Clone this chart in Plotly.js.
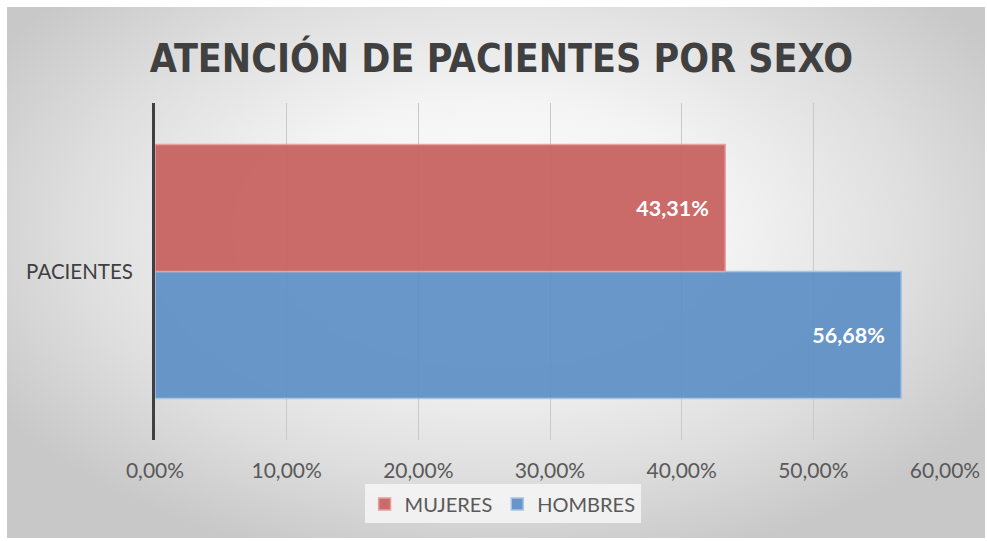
<!DOCTYPE html>
<html>
<head>
<meta charset="utf-8">
<script src="https://cdn.plot.ly/plotly-3.0.1.min.js"></script>
<style>
  html, body { margin: 0; padding: 0; background: #ffffff; width: 987px; height: 541px; overflow: hidden; }
  #bg { position: absolute; left: 7px; top: 7px; width: 978px; height: 531px;
        background: radial-gradient(ellipse 60% 65% at 50% 42%, #ffffff 0%, #f4f4f4 38%, #dedede 72%, #c8c8c8 100%); }
  #chart { position: absolute; left: 0; top: 0; width: 987px; height: 541px; }
</style>
</head>
<body>
<div id="bg"></div>
<div id="chart"></div>
<script>
const categories = ["PACIENTES"];
const seriesNames = ["MUJERES", "HOMBRES"];
const mujeres = [0.4331];
const hombres = [0.5668];
const xTicks = [0, 0.1, 0.2, 0.3, 0.4, 0.5, 0.6];

const common = {
  type: "bar",
  orientation: "h",
  y: categories,
  texttemplate: "%{x:.2%}\u2002\u2009",
  textposition: "inside",
  insidetextanchor: "end",
  textfont: { family: "Lato, 'Open Sans', sans-serif", size: 21.5, color: "#ffffff", weight: "bold" },
  hoverinfo: "skip"
};

const traces = [
  Object.assign({}, common, {
    name: seriesNames[1], x: hombres,
    marker: { color: "rgba(95,143,198,0.93)", line: { color: "#a9c4e4", width: 1.5 } }
  }),
  Object.assign({}, common, {
    name: seriesNames[0], x: mujeres,
    marker: { color: "rgba(199,98,96,0.94)", line: { color: "#e4a3a1", width: 1.5 } }
  })
];

const layout = {
  width: 987, height: 541,
  paper_bgcolor: "rgba(0,0,0,0)",
  plot_bgcolor: "rgba(0,0,0,0)",
  separators: ",.",
  margin: { l: 155, r: 42, t: 103, b: 101 },
  barmode: "group",
  bargap: 0.246,
  bargroupgap: 0,
  title: {
    text: "<b>ATENCIÓN DE PACIENTES POR SEXO</b>",
    x: 0.508, xanchor: "center", y: 0.893, yanchor: "middle",
    font: { family: "'DejaVu Sans Condensed', sans-serif", size: 39, color: "#404040" }
  },
  xaxis: {
    range: [0, 0.6],
    tickvals: xTicks,
    tickformat: ".2%",
    showgrid: true, gridcolor: "#c9c9c9", gridwidth: 1,
    zeroline: false, showline: false,
    ticks: "", ticklabelstandoff: 16,
    tickfont: { family: "Lato, 'Open Sans', sans-serif", size: 21, color: "#595959" },
    fixedrange: true
  },
  yaxis: {
    showline: true, linecolor: "#404040", linewidth: 3,
    showgrid: false, zeroline: false,
    ticks: "", ticklabelstandoff: 15,
    tickfont: { family: "Lato, 'Open Sans', sans-serif", size: 20.5, color: "#404040" },
    fixedrange: true
  },
  showlegend: true,
  legend: {
    orientation: "h",
    traceorder: "reversed",
    x: 0.44, xanchor: "center",
    y: -0.132, yanchor: "top",
    bgcolor: "rgba(244,244,244,0.9)",
    font: { family: "Lato, 'Open Sans', sans-serif", size: 20, color: "#595959" },
    itemwidth: 30
  }
};

Plotly.newPlot("chart", traces, layout, { displayModeBar: false, staticPlot: true });
</script>
</body>
</html>
